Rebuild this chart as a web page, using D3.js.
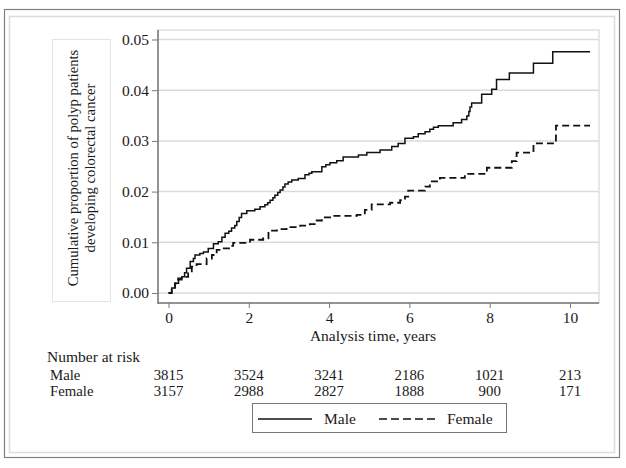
<!DOCTYPE html>
<html><head><meta charset="utf-8">
<script src="https://cdn.jsdelivr.net/npm/d3@7"></script>
<style>body{margin:0;background:#fff}svg{display:block}text{font-family:"Liberation Serif","Times New Roman",serif;fill:#1a1a1a}</style>
</head><body>
<script>
const maleTime = [0,0.08,0.16,0.25,0.33,0.40,0.45,0.54,0.62,0.66,0.78,0.87,0.99,1.12,1.24,1.33,1.41,1.50,1.57,1.65,1.70,1.76,1.82,1.95,2.15,2.28,2.40,2.47,2.53,2.60,2.65,2.72,2.78,2.85,2.90,2.98,3.07,3.23,3.40,3.50,3.57,3.82,3.92,4.02,4.19,4.35,4.73,4.94,5.27,5.56,5.72,5.89,6.10,6.22,6.39,6.51,6.60,6.72,7.09,7.30,7.43,7.48,7.51,7.55,7.80,8.05,8.17,8.49,9.09,9.57,10.5];
const maleRisk = [0,0.0010,0.0019,0.0026,0.0032,0.0040,0.0049,0.0062,0.0068,0.0075,0.0078,0.0081,0.0088,0.0097,0.0101,0.0110,0.0118,0.0122,0.0128,0.0133,0.0141,0.0149,0.0157,0.0162,0.0165,0.0170,0.0174,0.0178,0.0183,0.0188,0.0193,0.0198,0.0203,0.0209,0.0215,0.0219,0.0223,0.0226,0.0233,0.0236,0.0239,0.0249,0.0253,0.0257,0.0261,0.0268,0.0272,0.0277,0.0282,0.0289,0.0295,0.0305,0.0308,0.0314,0.0318,0.0323,0.0327,0.0330,0.0336,0.0342,0.0349,0.0358,0.0367,0.0375,0.0392,0.0402,0.0421,0.0434,0.0453,0.0476,0.0476];
const femaleTime = [0,0.08,0.16,0.24,0.37,0.49,0.58,0.70,0.95,1.08,1.20,1.32,1.53,1.61,2.03,2.36,2.49,2.70,2.94,3.28,3.52,3.69,3.82,4.07,4.69,4.89,5.06,5.52,5.77,5.89,5.97,6.39,6.51,6.76,7.38,7.93,8.55,8.67,9.09,9.65,10.5];
const femaleRisk = [0,0.0009,0.0019,0.0029,0.0032,0.0039,0.0052,0.0057,0.0068,0.0075,0.0085,0.0088,0.0093,0.0099,0.0105,0.0108,0.0123,0.0126,0.0130,0.0133,0.0136,0.0143,0.0149,0.0152,0.0154,0.0164,0.0175,0.0178,0.0183,0.0190,0.0202,0.0210,0.0220,0.0227,0.0235,0.0247,0.0260,0.0277,0.0295,0.0330,0.0330];
const xTicks = [0,2,4,6,8,10];
const yTicks = [0,0.01,0.02,0.03,0.04,0.05];
const riskTimes = [0,2,4,6,8,10];
const maleAtRisk = [3815,3524,3241,2186,1021,213];
const femaleAtRisk = [3157,2988,2827,1888,900,171];
const groups = ["Male","Female"];

const FS="15.5px";
const W=626,H=468;
const svg=d3.select("body").append("svg").attr("width",W).attr("height",H);
// outer frames
svg.append("rect").attr("x",4.5).attr("y",9.5).attr("width",615).attr("height",448).attr("fill","#fff").attr("stroke","#808080").attr("stroke-width",1.2);
svg.append("rect").attr("x",9.5).attr("y",16.5).attr("width",605).attr("height",436).attr("fill","none").attr("stroke","#dcdcdc").attr("stroke-width",1.5);

const x=d3.scaleLinear().domain([0,10]).range([168.5,570]);
const y=d3.scaleLinear().domain([0,0.05]).range([293,39.5]);
const plotL=158,plotR=599,plotT=30,plotB=303;

// plot area
svg.append("rect").attr("x",plotL).attr("y",plotT).attr("width",plotR-plotL).attr("height",plotB-plotT).attr("fill","#fff").attr("stroke","#e0e0e0").attr("stroke-width",1.5);
// gridlines
svg.append("g").selectAll("line").data(yTicks).join("line")
  .attr("x1",plotL).attr("x2",plotR).attr("y1",d=>y(d)).attr("y2",d=>y(d))
  .attr("stroke","#dadada").attr("stroke-width",1.5);

// y title box
svg.append("rect").attr("x",52.5).attr("y",39.5).attr("width",58).attr("height",262).attr("fill","#fff").attr("stroke","#e4e4e4");
const yt=svg.append("text").attr("transform","translate(78,168) rotate(-90)").attr("text-anchor","middle").style("font-size","14.7px");
yt.append("tspan").attr("x",0).attr("dy",0).text("Cumulative proportion of polyp patients");
yt.append("tspan").attr("x",0).attr("dy",17).text("developing colorectal cancer");

// axes
const yAxis=svg.append("g").attr("transform",`translate(${plotL},0)`)
  .call(d3.axisLeft(y).tickValues(yTicks).tickFormat(d3.format(".2f")).tickSize(6).tickSizeOuter(0));
const xAxis=svg.append("g").attr("transform",`translate(0,${plotB})`)
  .call(d3.axisBottom(x).tickValues(xTicks).tickFormat(d3.format("d")).tickSize(5).tickSizeOuter(0));
[yAxis,xAxis].forEach(g=>{
  g.select(".domain").remove();
  g.selectAll("line").attr("stroke","#777").attr("stroke-width",1);
  g.selectAll("text").style("font-size",FS).attr("fill","#222").style("font-family","'Liberation Serif',serif");
});
yAxis.selectAll("text").attr("x",-9);
xAxis.selectAll("text").attr("y",9);
svg.append("line").attr("x1",plotL).attr("x2",plotL).attr("y1",plotT).attr("y2",plotB+1).attr("stroke","#777").attr("stroke-width",1.5);
svg.append("line").attr("x1",plotL).attr("x2",plotR).attr("y1",plotB).attr("y2",plotB).attr("stroke","#777").attr("stroke-width",1.5);

// curves
const line=d3.line().x(d=>x(d[0])).y(d=>y(d[1])).curve(d3.curveStepAfter);
const maleData=maleTime.map((t,i)=>[t,maleRisk[i]]);
const femaleData=femaleTime.map((t,i)=>[t,femaleRisk[i]]);
svg.append("path").attr("d",line(maleData)).attr("fill","none").attr("stroke","#111").attr("stroke-width",1.5);
svg.append("path").attr("d",line(femaleData)).attr("fill","none").attr("stroke","#111").attr("stroke-width",1.8).attr("stroke-dasharray","7,4");

// axis title
svg.append("text").attr("x",373).attr("y",341).attr("text-anchor","middle").style("font-size",FS).text("Analysis time, years");

// number at risk
svg.append("text").attr("x",47).attr("y",362).style("font-size",FS).text("Number at risk");
const rows=[maleAtRisk,femaleAtRisk];
const RFS="14.8px";
rows.forEach((r,ri)=>{
  const yy=380+ri*16;
  svg.append("text").attr("x",50).attr("y",yy).style("font-size",RFS).text(groups[ri]);
  svg.append("g").selectAll("text").data(riskTimes).join("text")
    .attr("x",d=>x(d)).attr("y",yy).attr("text-anchor","middle").style("font-size",RFS)
    .text((d,i)=>r[i]);
});

// legend
const lg=svg.append("g");
lg.append("rect").attr("x",252.5).attr("y",403.5).attr("width",254).attr("height",29).attr("fill","#fff").attr("stroke","#777").attr("stroke-width",1);
lg.append("line").attr("x1",258).attr("x2",312).attr("y1",419).attr("y2",419).attr("stroke","#111").attr("stroke-width",1.5);
lg.append("text").attr("x",324).attr("y",424).style("font-size",FS).text(groups[0]);
lg.append("line").attr("x1",379).attr("x2",438).attr("y1",419).attr("y2",419).attr("stroke","#111").attr("stroke-width",1.5).attr("stroke-dasharray","8,4");
lg.append("text").attr("x",447).attr("y",424).style("font-size",FS).text(groups[1]);
</script>
</body></html>
